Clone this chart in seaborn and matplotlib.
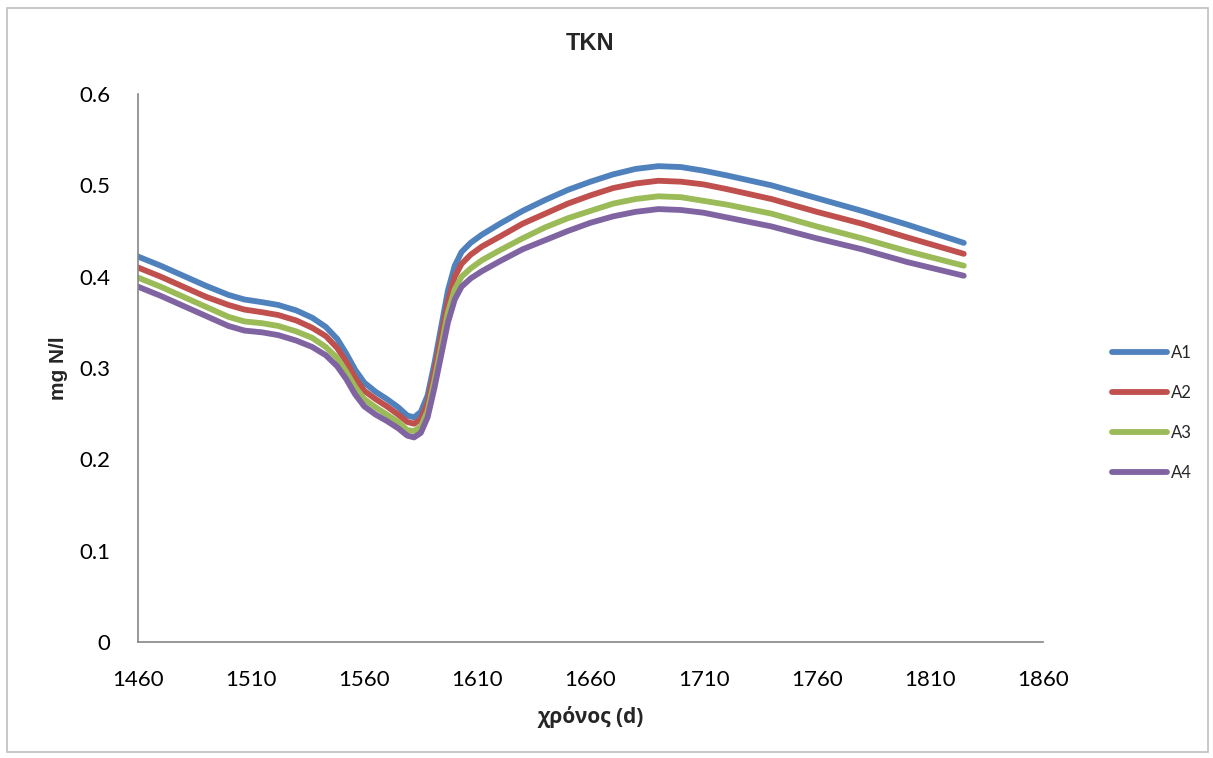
import pandas as pd
import seaborn as sns
import matplotlib.pyplot as plt
from matplotlib.patches import Rectangle

# Data
days = [1460, 1470, 1480, 1490, 1500, 1507, 1515, 1522, 1530, 1537, 1543, 1548,
        1552, 1556, 1560, 1565, 1570, 1575, 1579, 1582, 1585, 1588, 1591, 1594,
        1597, 1600, 1603, 1607, 1612, 1620, 1630, 1640, 1650, 1660, 1670, 1680,
        1690, 1700, 1710, 1720, 1740, 1760, 1780, 1800, 1825]

a1 = [.422, .412, .401, .390, .380, .375, .372, .369, .363, .355, .345, .332,
      .316, .298, .284, .274, .266, .257, .248, .246, .252, .270, .305, .345,
      .385, .412, .427, .437, .446, .458, .472, .484, .495, .504, .512, .518,
      .521, .520, .516, .511, .500, .486, .472, .457, .437]
a2 = [.410, .400, .389, .378, .369, .364, .361, .358, .352, .344, .335, .322,
      .307, .289, .275, .266, .258, .249, .241, .239, .244, .262, .296, .335,
      .373, .400, .414, .424, .433, .444, .458, .469, .480, .489, .497, .502,
      .505, .504, .501, .496, .485, .471, .458, .443, .425]
a3 = [.399, .389, .378, .367, .356, .351, .349, .346, .340, .333, .323, .311,
      .296, .279, .266, .257, .249, .241, .232, .231, .236, .253, .286, .323,
      .361, .386, .400, .409, .418, .429, .442, .454, .464, .472, .480, .485,
      .488, .487, .483, .479, .469, .455, .442, .428, .412]
a4 = [.389, .379, .368, .357, .346, .341, .339, .336, .330, .323, .314, .302,
      .288, .271, .258, .249, .242, .234, .226, .224, .229, .246, .278, .314,
      .350, .375, .389, .398, .406, .417, .430, .440, .450, .459, .466, .471,
      .474, .473, .470, .465, .455, .442, .430, .416, .401]

series = ['A1', 'A2', 'A3', 'A4']
colors = ['#4F81BD', '#C0504D', '#9BBB59', '#8064A2']
x_ticks = [1460, 1510, 1560, 1610, 1660, 1710, 1760, 1810, 1860]
y_ticks = [0, 0.1, 0.2, 0.3, 0.4, 0.5, 0.6]

df = pd.DataFrame({
    'day': days * 4,
    'value': a1 + a2 + a3 + a4,
    'series': sum([[s] * len(days) for s in series], []),
})

sns.set_style('white')
plt.rcParams['font.family'] = ['Lato', 'DejaVu Sans']

fig = plt.figure(figsize=(12.13, 7.58), dpi=100)
ax = fig.add_axes([0.1138, 0.153, 0.746, 0.723])

sns.lineplot(data=df, x='day', y='value', hue='series', palette=colors,
             linewidth=4.2, ax=ax, sort=False)

ax.set_xlim(1460, 1860)
ax.set_ylim(0, 0.6)
ax.set_xticks(x_ticks)
ax.set_xticklabels([str(t) for t in x_ticks])
ax.set_yticks(y_ticks)
ax.set_yticklabels(['0', '0.1', '0.2', '0.3', '0.4', '0.5', '0.6'])
ax.tick_params(axis='both', length=0, labelsize=16, pad=20, colors='black')

for side in ['top', 'right']:
    ax.spines[side].set_visible(False)
for side in ['left', 'bottom']:
    ax.spines[side].set_color('#868686')
    ax.spines[side].set_linewidth(1.2)

ax.set_title('TKN', fontsize=17, fontweight='bold', pad=32,
             family=['Liberation Sans', 'DejaVu Sans'])
ax.set_xlabel('χρόνος (d)', fontsize=15, fontweight='bold', labelpad=12,
              family=['Open Sans', 'DejaVu Sans'])
ax.set_ylabel('mg N/l', fontsize=15, fontweight='bold', labelpad=8,
              family=['Liberation Sans', 'DejaVu Sans'])

handles, labels = ax.get_legend_handles_labels()
leg = ax.legend(handles, labels, loc='center left', bbox_to_anchor=(1.06, 0.418),
                frameon=False, fontsize=12, handlelength=3.3, handletextpad=0.2,
                labelspacing=1.45)
for line in leg.get_lines():
    line.set_linewidth(4.2)

fig.patches.append(Rectangle((0.006, 0.008), 0.99, 0.981, transform=fig.transFigure,
                             fill=False, edgecolor='#BFBFBF', linewidth=1.2))

plt.savefig('out.png', dpi=100)
